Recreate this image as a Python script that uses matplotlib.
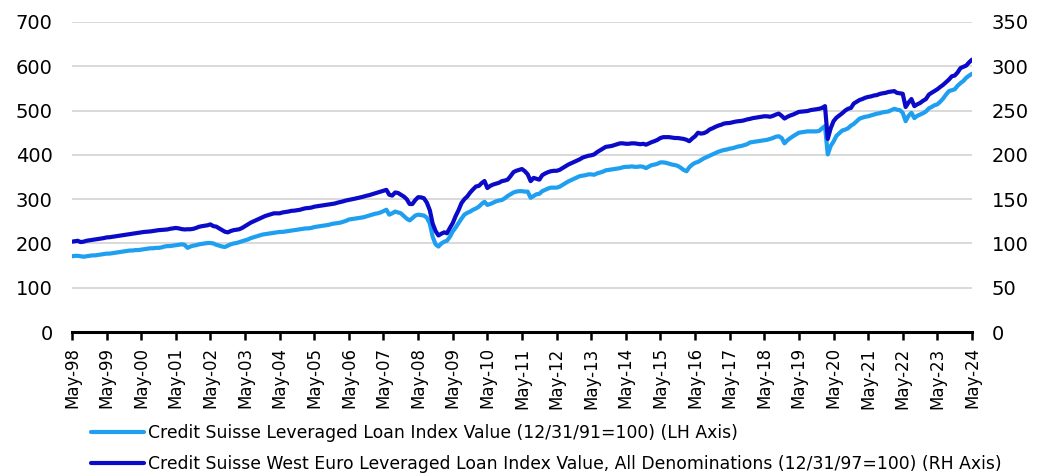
import matplotlib
matplotlib.use("Agg")
import matplotlib.pyplot as plt
import matplotlib.dates as mdates
import numpy as np
import pandas as pd

# monthly, May-98 .. May-24
months = pd.date_range("1998-05-01", "2024-05-01", freq="MS")

# Credit Suisse Leveraged Loan Index (LH axis)
us_loans = [
    171, 172, 172, 171, 170, 171, 172, 173,
    173, 174, 175, 176, 177, 177, 178, 179, 180, 181, 182, 183,
    184, 184, 185, 185, 186, 187, 188, 189, 189, 190, 190, 191,
    193, 194, 194, 195, 196, 197, 198, 197, 190, 193, 195, 196,
    198, 199, 200, 201, 201, 200, 197, 195, 193, 192, 195, 198,
    200, 201, 203, 205, 207, 209, 212, 214, 216, 218, 220, 221,
    222, 223, 224, 225, 226, 226, 227, 228, 229, 230, 231, 232,
    233, 234, 234, 235, 237, 238, 239, 240, 241, 242, 244, 245,
    246, 247, 249, 251, 254, 255, 256, 257, 258, 259, 261, 263,
    265, 267, 268, 270, 273, 276, 265, 268, 272, 270, 268, 262,
    256, 252, 257, 263, 265, 264, 263, 258, 245, 215, 198, 193,
    200, 204, 206, 215, 227, 236, 246, 256, 265, 269, 272, 276,
    279, 283, 289, 294, 287, 289, 292, 295, 297, 298, 302, 307,
    311, 315, 317, 318, 318, 317, 317, 303, 307, 311, 312, 318,
    321, 324, 326, 326, 326, 328, 332, 336, 340, 343, 346, 349,
    352, 353, 354, 356, 356, 355, 358, 360, 362, 365, 366, 367,
    368, 369, 370, 372, 373, 373, 374, 373, 373, 374, 373, 370,
    374, 377, 378, 380, 383, 383, 382, 380, 378, 377, 375, 371,
    366, 363, 372, 378, 382, 384, 388, 392, 395, 398, 401, 404,
    407, 409, 411, 412, 414, 415, 417, 419, 420, 422, 424, 428,
    429, 430, 431, 432, 433, 434, 436, 438, 441, 442, 438, 426,
    433, 438, 442, 446, 450, 451, 452, 453, 453, 453, 453, 454,
    460, 465, 401, 420, 430, 443, 449, 455, 457, 460, 466, 470,
    476, 482, 484, 486, 487, 489, 491, 493, 494, 496, 497, 498,
    501, 504, 502, 501, 495, 476, 488, 495, 483, 488, 491, 494,
    498, 505, 508, 512, 514, 520, 527, 536, 544, 546, 548, 556,
    562, 567, 574, 579, 583,
]

# Credit Suisse West Euro Leveraged Loan Index (RH axis)
euro_loans = [
    102, 102.5, 103, 101.5, 102, 103, 103.5, 104,
    104.5, 105, 105.5, 106, 106.8, 107, 107.5, 108, 108.5, 109, 109.5, 110,
    110.5, 111, 111.5, 112, 112.5, 113, 113.2, 113.5, 114, 114.5, 115, 115.2,
    115.5, 115.8, 116.5, 117, 117.5, 117, 116.2, 115.8, 116, 116, 116.5, 117.5,
    118.8, 119.5, 120, 120.5, 121.5, 119.5, 119, 117, 115, 113.2, 112.5, 114,
    115, 115.5, 116, 117.5, 119.5, 121.5, 123.5, 125, 126.5, 128, 129.5, 131,
    132, 133, 134, 134, 134, 135, 135.5, 136, 136.8, 137, 137.5, 138,
    139, 139.8, 140, 140.5, 141.5, 142, 142.5, 143, 143.5, 144, 144.5, 145,
    146, 146.8, 147.5, 148.5, 149.2, 150, 150.5, 151.2, 152, 152.8, 153.8, 154.5,
    155.5, 156.5, 157.5, 158.5, 159.5, 160.5, 155, 154, 157.5, 157, 155, 153,
    150, 144.5, 144.5, 149, 152.2, 152, 151, 146, 137.5, 122.5, 114, 109,
    111, 112.5, 111.5, 117.5, 123, 131, 137.5, 145.5, 150, 153, 157.5, 161,
    164.3, 165, 168, 170.5, 162.5, 165, 166.5, 167.5, 168.5, 170.3, 171, 172,
    176, 180.5, 182, 183, 184, 181.5, 178, 170.3, 174, 173, 172, 177,
    179, 180.5, 181.5, 182, 182, 183, 185, 187, 189, 190.5, 192, 193.5,
    195, 197, 198, 199, 199.5, 200.5, 203, 205, 207, 209, 209.5, 210,
    211, 212, 213, 213, 212.5, 212.5, 213, 213, 212.5, 212, 212.5, 211.5,
    213, 214.5, 215.5, 217, 219, 220, 220, 220, 219.5, 219, 219, 218.5,
    218, 217, 215.4, 218.5, 221, 225, 224, 224.5, 226, 228.6, 230, 231.6,
    233, 234, 235.3, 235.8, 236, 236.8, 237.5, 238, 238.3, 239, 240, 240.6,
    241.5, 242, 242.5, 243, 243.6, 243.5, 243, 244, 245.5, 246.6, 244, 241,
    243, 244.5, 245.5, 247, 248.5, 248.8, 249, 249.5, 250.5, 251, 251.5, 252,
    253, 255, 218, 230, 238, 242, 244.5, 247, 250, 252, 253, 258,
    260, 262, 263, 264.5, 265.4, 266, 267, 267.5, 268.8, 269.5, 270, 271,
    271.5, 272, 270, 269.5, 269, 254, 259, 263, 255, 257, 258.6, 261,
    263, 268, 270, 272, 274, 276.7, 279, 282, 285, 288.7, 289.5, 293,
    298, 299.5, 300.8, 304.5, 307.5,
]

labels = [
    "Credit Suisse Leveraged Loan Index Value (12/31/91=100) (LH Axis)",
    "Credit Suisse West Euro Leveraged Loan Index Value, All Denominations (12/31/97=100) (RH Axis)",
]

light_blue = "#1e9ff0"
dark_blue = "#0a0ac8"

plt.rcParams["font.family"] = ["DejaVu Sans"]

fig = plt.figure(figsize=(10.4, 4.76), dpi=100)
ax = fig.add_axes([0.0692, 0.3025, 0.8654, 0.6513])
ax2 = ax.twinx()

l1, = ax.plot(months, us_loans, color=light_blue, lw=3, solid_capstyle="round")
l2, = ax2.plot(months, euro_loans, color=dark_blue, lw=3, solid_capstyle="round")

ax.set_ylim(0, 700)
ax.set_yticks(np.arange(0, 701, 100))
ax2.set_ylim(0, 350)
ax2.set_yticks(np.arange(0, 351, 50))
ax.set_xlim(months[0], months[-1])

ax.grid(axis="y", color="#d9d9d9", lw=1.4)
ax.set_axisbelow(True)

ticks = [d for d in months if d.month == 5]
ax.set_xticks(ticks)
ax.xaxis.set_major_formatter(mdates.DateFormatter("%b-%y"))
for lab in ax.get_xticklabels():
    lab.set_rotation(90)

for a in (ax, ax2):
    for s in ("top", "left", "right", "bottom"):
        a.spines[s].set_visible(False)
ax.spines["bottom"].set_visible(True)
ax.spines["bottom"].set_linewidth(2.2)
ax.spines["bottom"].set_color("black")

ax.tick_params(axis="x", length=6, width=1.8, labelsize=12, pad=5, colors="black")
ax.tick_params(axis="y", length=0, labelsize=14, pad=14)
ax2.tick_params(axis="y", length=0, labelsize=14, pad=14)

fig.legend([l1, l2], labels, loc="upper left", bbox_to_anchor=(0.0875, 0.11),
           frameon=False, prop={"size": 12.4},
           handlelength=3.1, handletextpad=0.2, labelspacing=0.8,
           borderaxespad=0, borderpad=0)

fig.savefig("out.png", dpi=100)
